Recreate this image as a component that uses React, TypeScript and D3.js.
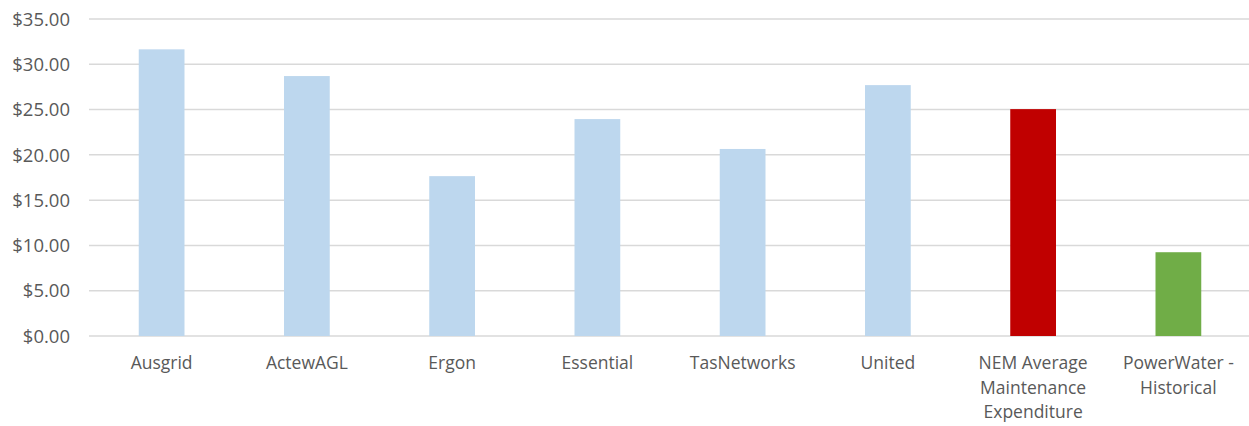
import React, { useEffect, useRef } from 'react'
import * as d3 from 'd3'

const categories = ['Ausgrid', 'ActewAGL', 'Ergon', 'Essential', 'TasNetworks', 'United', 'NEM Average Maintenance Expenditure', 'PowerWater - Historical']
const values = [31.65, 28.7, 17.65, 23.95, 20.65, 27.7, 25.05, 9.25]
const barColors = ['#BDD7EE', '#BDD7EE', '#BDD7EE', '#BDD7EE', '#BDD7EE', '#BDD7EE', '#C00000', '#70AD47']
const yTicks = [0, 5, 10, 15, 20, 25, 30, 35]

const W = 1249
const H = 426

export default function App() {
  const ref = useRef<SVGSVGElement>(null)

  useEffect(() => {
    const svg = d3.select(ref.current)
    svg.selectAll('*').remove()

    const x = d3.scaleBand<string>().domain(categories).range([89, 1251]).padding(0)
    const y = d3.scaleLinear().domain([0, 35]).range([336, 19])
    const barW = x.bandwidth() * 0.315
    const font = "'Open Sans', sans-serif"

    // gridlines
    svg.append('g')
      .selectAll('line')
      .data(yTicks)
      .enter()
      .append('line')
      .attr('x1', 89)
      .attr('x2', W)
      .attr('y1', d => y(d))
      .attr('y2', d => y(d))
      .attr('stroke', '#d9d9d9')
      .attr('stroke-width', 1.5)

    // y labels
    svg.append('g')
      .selectAll('text')
      .data(yTicks)
      .enter()
      .append('text')
      .attr('x', 70)
      .attr('y', d => y(d))
      .attr('dy', '0.36em')
      .attr('text-anchor', 'end')
      .attr('font-family', font)
      .attr('font-size', 18.5)
      .attr('fill', '#595959')
      .text(d => d3.format('$.2f')(d))

    // bars
    svg.append('g')
      .selectAll('rect')
      .data(values)
      .enter()
      .append('rect')
      .attr('x', (d, i) => x(categories[i])! + x.bandwidth() / 2 - barW / 2)
      .attr('width', barW)
      .attr('y', d => y(d))
      .attr('height', d => y(0) - y(d))
      .attr('fill', (d, i) => barColors[i])

    // category labels, word wrapped
    const labels = svg.append('g')
      .selectAll('text')
      .data(categories)
      .enter()
      .append('text')
      .attr('x', d => x(d)! + x.bandwidth() / 2)
      .attr('y', 369)
      .attr('text-anchor', 'middle')
      .attr('font-family', font)
      .attr('font-size', 17.5)
      .attr('fill', '#595959')

    labels.each(function (d) {
      const t = d3.select(this)
      const words = d.split(' ')
      const cx = +t.attr('x')
      let line: string[] = []
      let tspan = t.append('tspan').attr('x', cx).attr('dy', 0)
      words.forEach(w => {
        line.push(w)
        tspan.text(line.join(' '))
        if ((tspan.node() as SVGTSpanElement).getComputedTextLength() > 128 && line.length > 1) {
          line.pop()
          tspan.text(line.join(' '))
          line = [w]
          tspan = t.append('tspan').attr('x', cx).attr('dy', 24.5).text(w)
        }
      })
    })
  }, [])

  return (
    <div>
      <svg ref={ref} width={W} height={H} style={{ position: 'absolute', left: 0, top: 0 }} />
    </div>
  )
}
